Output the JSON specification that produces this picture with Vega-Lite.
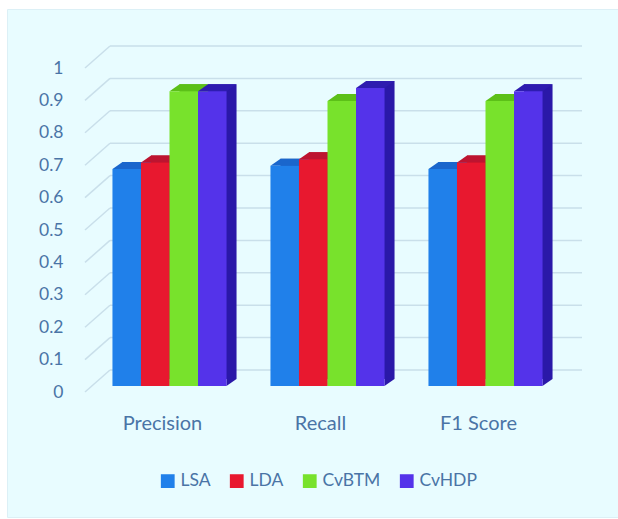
{
  "$schema": "https://vega.github.io/schema/vega-lite/v6.json",
  "width": 611,
  "height": 508,
  "autosize": {"type": "none"},
  "padding": {"left": 7, "top": 9, "right": 0, "bottom": 2},
  "background": "#ffffff",
  "config": {
    "view": {"fill": "#e8fcff", "stroke": "#dcf0f6", "strokeWidth": 1},
    "axis": {"labelFont": "Lato", "labelColor": "#4a74a6", "domain": false, "ticks": false, "grid": false, "title": null}
  },
  "data": {
    "values": [
      {"metric": "Precision", "model": "LSA", "value": 0.67},
      {"metric": "Precision", "model": "LDA", "value": 0.69},
      {"metric": "Precision", "model": "CvBTM", "value": 0.91},
      {"metric": "Precision", "model": "CvHDP", "value": 0.91},
      {"metric": "Recall", "model": "LSA", "value": 0.68},
      {"metric": "Recall", "model": "LDA", "value": 0.70},
      {"metric": "Recall", "model": "CvBTM", "value": 0.88},
      {"metric": "Recall", "model": "CvHDP", "value": 0.92},
      {"metric": "F1 Score", "model": "LSA", "value": 0.67},
      {"metric": "F1 Score", "model": "LDA", "value": 0.69},
      {"metric": "F1 Score", "model": "CvBTM", "value": 0.88},
      {"metric": "F1 Score", "model": "CvHDP", "value": 0.91}
    ]
  },
  "datasets": {
    "levels": [
      {"level": 0}, {"level": 0.1}, {"level": 0.2}, {"level": 0.3}, {"level": 0.4}, {"level": 0.5},
      {"level": 0.6}, {"level": 0.7}, {"level": 0.8}, {"level": 0.9}, {"level": 1}
    ]
  },
  "layer": [
    {
      "data": {"name": "levels"},
      "mark": {"type": "rule", "color": "#c9dfea", "strokeWidth": 1.5},
      "encoding": {
        "x": {"datum": 25, "type": "quantitative", "scale": {"domain": [0, 497], "range": [78, 575]}, "axis": null},
        "x2": {"datum": 497},
        "y": {
          "field": "level",
          "type": "quantitative",
          "scale": {"domain": [0, 1], "range": [361, 37]},
          "axis": {
            "values": [0, 0.1, 0.2, 0.3, 0.4, 0.5, 0.6, 0.7, 0.8, 0.9, 1],
            "format": "~g",
            "labelFontSize": 17.5,
            "labelOffset": 22,
            "labelPadding": 0,
            "offset": -56
          }
        }
      }
    },
    {
      "data": {"name": "levels"},
      "mark": {"type": "rule", "color": "#c9dfea", "strokeWidth": 1.5, "y2Offset": 22},
      "encoding": {
        "x": {"datum": 25, "type": "quantitative", "scale": {"domain": [0, 497], "range": [78, 575]}, "axis": null},
        "x2": {"datum": 0},
        "y": {"field": "level", "type": "quantitative", "scale": {"domain": [0, 1], "range": [361, 37]}, "axis": null},
        "y2": {"field": "level"}
      }
    },
    {
      "mark": {"type": "bar"},
      "encoding": {
        "x": {"field": "metric", "type": "nominal", "sort": ["Precision", "Recall", "F1 Score"], "scale": {"range": [93.5, 567.5], "paddingInner": 0, "paddingOuter": 0}, "axis": null},
        "xOffset": {"field": "model", "type": "nominal", "sort": ["LSA", "LDA", "CvBTM", "CvHDP"], "scale": {"paddingInner": 0, "paddingOuter": 0.77}},
        "y": {"field": "value", "type": "quantitative", "stack": null, "scale": {"domain": [0, 1], "range": [370, 46]}, "axis": null},
        "color": {"field": "model", "type": "nominal", "sort": ["LSA", "LDA", "CvBTM", "CvHDP"], "scale": {"range": ["#1658b8", "#b01028", "#52b014", "#2a18a8"]}, "legend": null}
      }
    },
    {
      "mark": {"type": "point", "filled": true, "opacity": 1, "strokeWidth": 0, "size": 4, "shape": "M14.2 0L14.2 -7L24.2 -7Z"},
      "encoding": {
        "x": {"field": "metric", "type": "nominal", "sort": ["Precision", "Recall", "F1 Score"], "scale": {"range": [83.5, 557.5], "paddingInner": 0, "paddingOuter": 0}, "axis": null},
        "xOffset": {"field": "model", "type": "nominal", "sort": ["LSA", "LDA", "CvBTM", "CvHDP"], "scale": {"paddingInner": 0, "paddingOuter": 0.77}},
        "y": {"datum": 0, "type": "quantitative", "scale": {"domain": [0, 1], "range": [377, 53]}, "axis": null},
        "color": {"field": "model", "type": "nominal", "sort": ["LSA", "LDA", "CvBTM", "CvHDP"], "scale": {"range": ["#1658b8", "#b01028", "#52b014", "#2a18a8"]}, "legend": null}
      }
    },
    {
      "mark": {"type": "point", "filled": true, "opacity": 1, "strokeWidth": 0, "size": 4, "shape": "M-14.2 0L-4.2 -7L24.2 -7L14.2 0Z"},
      "encoding": {
        "x": {"field": "metric", "type": "nominal", "sort": ["Precision", "Recall", "F1 Score"], "scale": {"range": [83.5, 557.5], "paddingInner": 0, "paddingOuter": 0}, "axis": null},
        "xOffset": {"field": "model", "type": "nominal", "sort": ["LSA", "LDA", "CvBTM", "CvHDP"], "scale": {"paddingInner": 0, "paddingOuter": 0.77}},
        "y": {"field": "value", "type": "quantitative", "scale": {"domain": [0, 1], "range": [377, 53]}, "axis": null},
        "color": {"field": "model", "type": "nominal", "sort": ["LSA", "LDA", "CvBTM", "CvHDP"], "scale": {"range": ["#1a66cc", "#bd1430", "#5cc018", "#2e1cb0"]}, "legend": null}
      }
    },
    {
      "mark": {"type": "bar"},
      "encoding": {
        "x": {
          "field": "metric",
          "type": "nominal",
          "sort": ["Precision", "Recall", "F1 Score"],
          "scale": {"range": [83.5, 557.5], "paddingInner": 0, "paddingOuter": 0},
          "axis": {"labelAngle": 0, "labelFontSize": 20, "labelPadding": 0, "labelOffset": -7, "offset": -94, "labelBaseline": "middle"}
        },
        "xOffset": {"field": "model", "type": "nominal", "sort": ["LSA", "LDA", "CvBTM", "CvHDP"], "scale": {"paddingInner": 0, "paddingOuter": 0.77}},
        "y": {"field": "value", "type": "quantitative", "stack": null, "scale": {"domain": [0, 1], "range": [377, 53]}, "axis": null},
        "color": {
          "field": "model",
          "type": "nominal",
          "sort": ["LSA", "LDA", "CvBTM", "CvHDP"],
          "scale": {"range": ["#2080ea", "#e8182f", "#78e22c", "#5433ea"]},
          "legend": {
            "orient": "none",
            "legendX": 152,
            "legendY": 463,
            "direction": "horizontal",
            "title": null,
            "symbolType": "square",
            "symbolSize": 190,
            "labelFont": "Lato",
            "labelFontSize": 17.5,
            "labelColor": "#4a74a6",
            "columnPadding": 17,
            "labelOffset": 4
          }
        }
      }
    }
  ],
  "resolve": {"scale": {"color": "independent", "x": "independent", "y": "independent"}}
}
